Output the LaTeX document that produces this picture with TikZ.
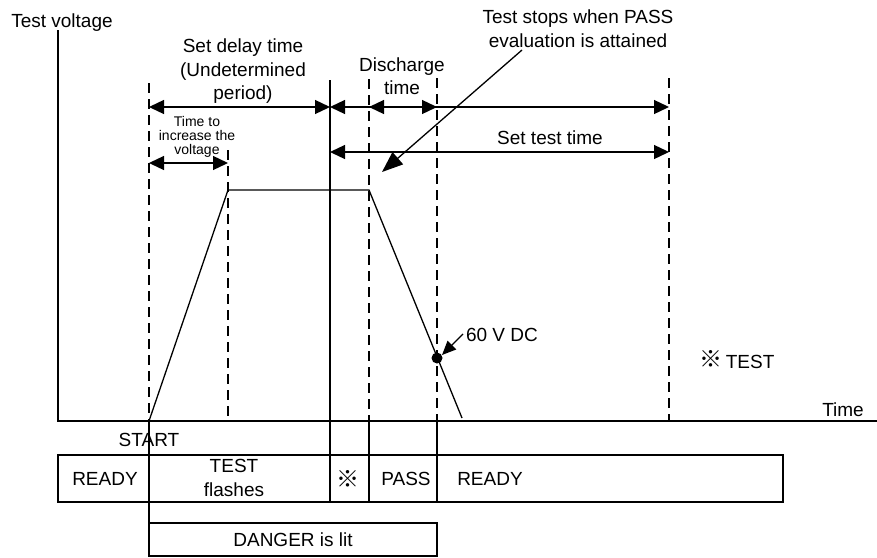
\documentclass[tikz,border=0pt]{standalone}
\usepackage{fontspec}
\setmainfont{Liberation Sans}
\newfontfamily\cjkf{Noto Sans CJK JP}
\usetikzlibrary{arrows.meta}
\begin{document}
\begin{tikzpicture}[x=1pt,y=-1pt, line width=1.3pt,
  lbl/.style={inner sep=0pt, font=\fontsize{19}{23.5}\selectfont, align=center},
  small/.style={inner sep=0pt, font=\fontsize{14}{14}\selectfont, align=center},
  dline/.style={dash pattern=on 10pt off 6pt},
  dim/.style={{Triangle[length=15pt,width=14pt]}-{Triangle[length=15pt,width=14pt]}},
  pointer/.style={-{Triangle[length=21pt,width=16pt]}},
  boxx/.style={draw, inner sep=0pt}]
\useasboundingbox (0,0) rectangle (877,557);
% axes
\coordinate (yt) at (58,30);
\coordinate (o) at (58,421);
\coordinate (xe) at (877,421);
\draw (yt) -- (o) -- (xe);
\node[lbl] (ylab) at (62,23) {Test voltage};
\node[lbl] (xlab) at (843,410) {Time};
% time marks
\coordinate (a0) at (149,83);  \coordinate (a1) at (149,421); \coordinate (a2) at (149,523);
\coordinate (b0) at (228,150); \coordinate (b1) at (228,421);
\coordinate (c0) at (330,80);  \coordinate (c2) at (330,502);
\coordinate (d0) at (369,79);  \coordinate (d1) at (369,421); \coordinate (d2) at (369,502);
\coordinate (e0) at (437,78);  \coordinate (e1) at (437,421); \coordinate (e2) at (437,502);
\coordinate (f0) at (669,78);  \coordinate (f1) at (669,421);
\draw[dline] (a0) -- (a1);
\draw (a1) -- (a2);
\draw[dline] (b0) -- (b1);
\draw (c0) -- (c2);
\draw[dline] (d0) -- (d1);
\draw (d1) -- (d2);
\draw[dline] (e0) -- (e1);
\draw (e1) -- (e2);
\draw[dline] (f0) -- (f1);
% waveform
\coordinate (w1) at (228,190);
\coordinate (w2) at (369,190);
\coordinate (w3) at (462,418);
\draw (a1) -- (w1) -- (w2) -- (w3);
\coordinate (dot) at (437,358);
\fill (dot) circle (5.5pt);
% dimension arrows
\coordinate (p1) at (149,107); \coordinate (p2) at (330,107);
\coordinate (p3) at (369,107); \coordinate (p4) at (437,107); \coordinate (p5) at (669,107);
\draw[dim] (p1) -- (p2);
\draw[dim] (p2) -- (p5);
\draw[dim] (p3) -- (p4);
\coordinate (q1) at (330,152); \coordinate (q2) at (669,152);
\draw[dim] (q1) -- (q2);
\coordinate (r1) at (149,163); \coordinate (r2) at (228,163);
\draw[dim] (r1) -- (r2);
% labels
\node[lbl] (sdt) at (243,71.5) {Set delay time\\(Undetermined\\period)};
\node[lbl] (dct) at (402,76) {Discharge\\time};
\node[lbl] (tsw) at (578,28.5) {Test stops when PASS\\evaluation is attained};
\node[lbl] (stt) at (550,138) {Set test time};
\node[small] (tti) at (197,137) {Time to\\increase the\\voltage};
\coordinate (s0) at (522,50);
\coordinate (s1) at (382,172);
\draw[pointer] (s0) -- (s1);
\node[lbl] (v60) at (502,335) {60 V DC};
\coordinate (v0) at (463,334);
\draw[{Triangle[length=14pt,width=12pt]}-] (dot) ++(5,-3) -- (v0);
\node[lbl] (note) at (737,360) {{\cjkf\fontsize{23}{23}\selectfont\raisebox{1pt}{※}}\,TEST};
% status boxes
\node[lbl] (start) at (149,440) {START};
\node[boxx, minimum width=725pt, minimum height=47pt] (readybox) at (420.5,478.5) {};
\node[lbl] (rdy1) at (105,479) {READY};
\node[lbl] (tfl) at (234,478) {TEST\\flashes};
\node[lbl] (mark) at (348,479) {\cjkf\fontsize{23}{23}\selectfont ※};
\node[lbl] (pass) at (406,479) {PASS};
\node[lbl] (rdy2) at (490,479) {READY};
\node[boxx, minimum width=288pt, minimum height=33pt] (danger) at (293,539.5) {};
\node[lbl] (dgr) at (293,540) {DANGER is lit};
\end{tikzpicture}
\end{document}
